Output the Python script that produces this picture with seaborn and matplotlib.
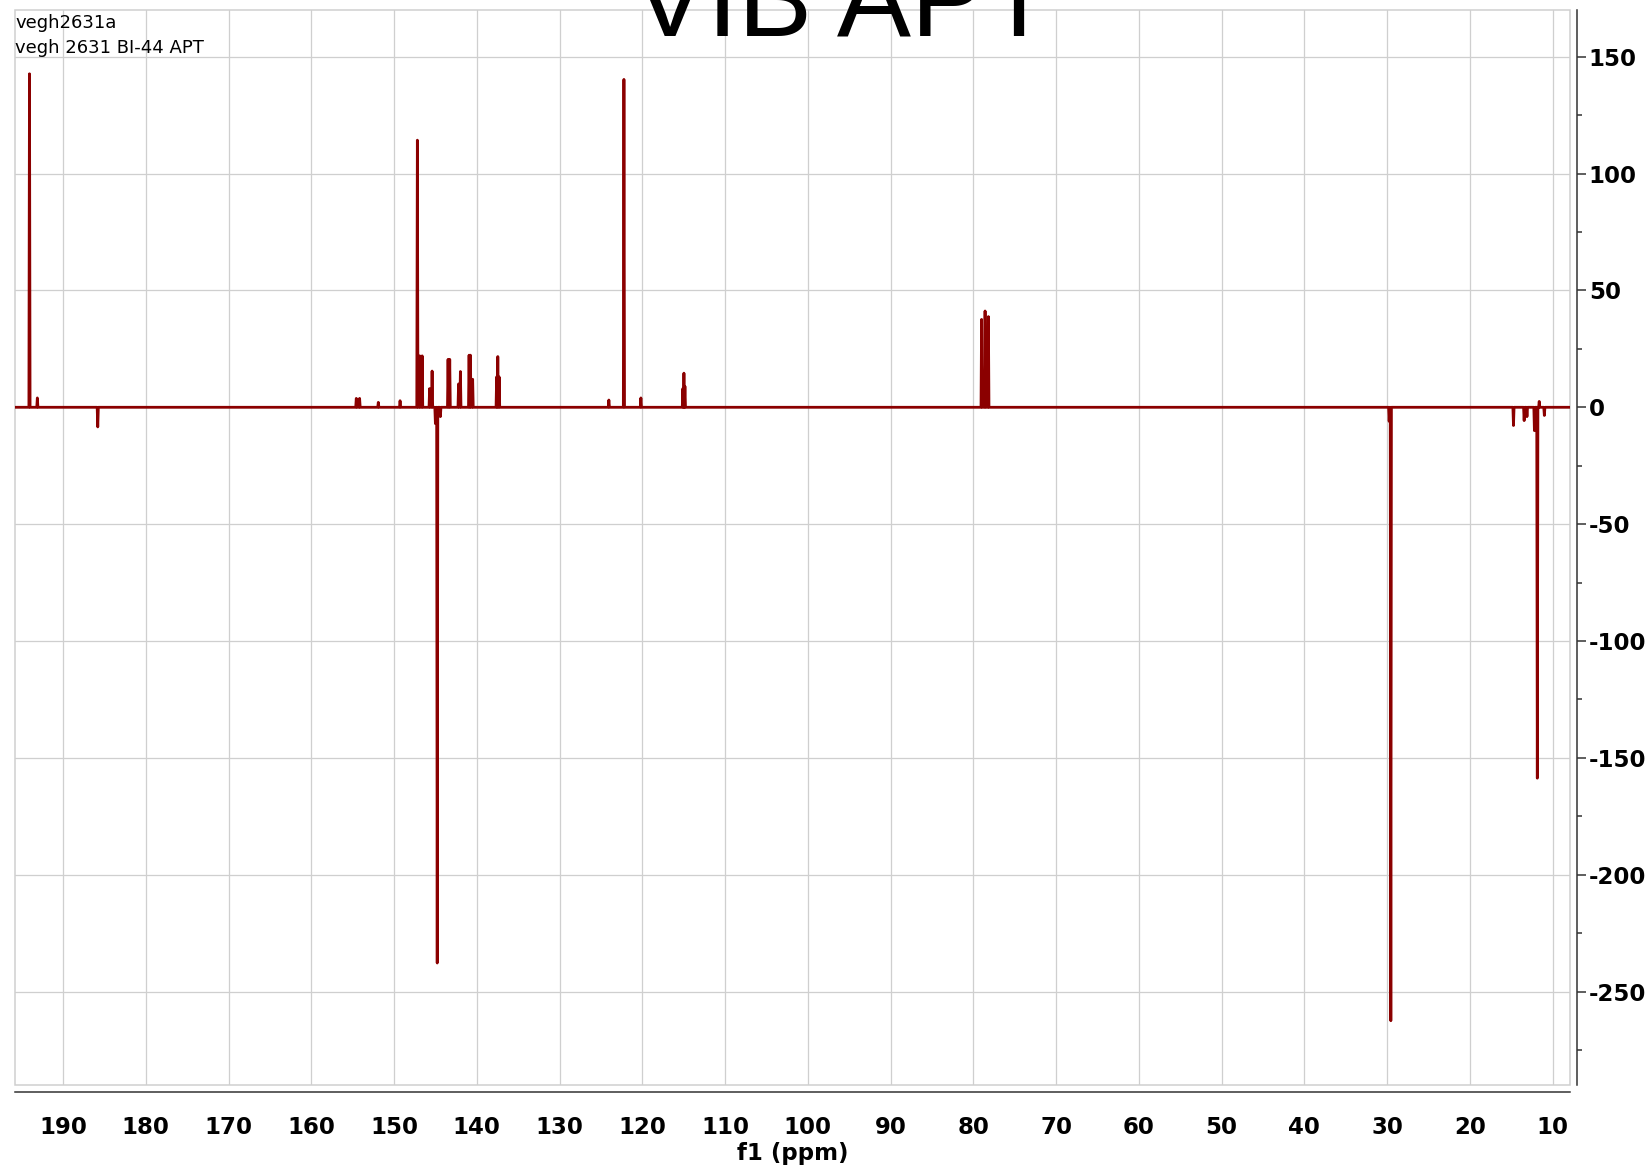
"""
Redraw of the 13C APT spectrum of vegh2631a (BI-44)
"""
import numpy as np
import pandas as pd
import matplotlib
matplotlib.use("Agg")
import matplotlib.pyplot as plt
import seaborn as sns
from matplotlib.patches import Rectangle
from matplotlib.ticker import MultipleLocator

# Data: peak position [ppm] and intensity
PEAK_PPM = [194.05, 193.1, 185.8, 154.56, 154.16, 151.9, 149.27,
            147.18, 146.9, 146.6, 145.7, 145.4, 145.0, 144.78, 144.4,
            143.47, 143.27, 142.2, 141.98, 140.93, 140.77, 140.5,
            137.6, 137.46, 137.3, 124.04, 122.22, 120.17,
            115.1, 114.97, 114.85, 79.0, 78.58, 78.18,
            29.75, 29.55, 14.73, 13.44, 13.1, 12.2, 11.85, 11.62, 11.0]
PEAK_INT = [142.7, 4.0, -8.4, 3.8, 3.8, 2.1, 2.8,
            114.3, 22.0, 22.0, 8.0, 15.5, -7.0, -237.8, -4.0,
            20.5, 20.5, 10.0, 15.3, 22.3, 22.3, 12.0,
            13.0, 21.7, 13.0, 3.1, 140.3, 4.0,
            8.0, 14.6, 9.0, 37.6, 41.2, 38.8,
            -6.0, -262.5, -7.8, -5.7, -4.0, -10.0, -158.7, 2.5, -3.5]

X_TICKS = list(range(10, 200, 10))
Y_TICKS = list(range(-250, 200, 50))
X_LIM = (195.8, 7.9)
Y_LIM = (-290, 170)

LINE_COLOR = "#8b0000"
GRID_COLOR = "#cfcfcf"
AXIS_COLOR = "#333333"
HALF_W = 0.07  # stick half width [ppm]


# I Helper Functions
def build_trace(ppm=None, intensity=None):
    """Stick trace: baseline - apex - baseline for every peak"""
    rows = [(X_LIM[0], 0.0)]
    for p, h in sorted(zip(ppm, intensity), key=lambda t: -t[0]):
        rows += [(p + HALF_W, 0.0), (p, h), (p - HALF_W, 0.0)]
    rows.append((X_LIM[1], 0.0))
    return pd.DataFrame(rows, columns=["ppm", "int"])


# II Main Functions
def plot_spectrum():
    sns.set_style("white")
    plt.rcParams["font.family"] = ["DejaVu Sans"]
    plt.rcParams["axes.unicode_minus"] = False
    plt.rcParams["text.color"] = "black"
    plt.rcParams["axes.labelcolor"] = "black"

    fig = plt.figure(figsize=(16.5, 11.66), dpi=100)
    ax = fig.add_axes([15 / 1650, 81 / 1166, 1555 / 1650, 1075 / 1166])

    df = build_trace(PEAK_PPM, PEAK_INT)
    sns.lineplot(data=df, x="ppm", y="int", sort=False, estimator=None,
                 color=LINE_COLOR, lw=2.0, ax=ax, zorder=3)

    ax.set_xlim(*X_LIM)
    ax.set_ylim(*Y_LIM)

    # grid + light frame
    ax.set_xticks(X_TICKS)
    ax.set_yticks(Y_TICKS)
    ax.xaxis.set_minor_locator(MultipleLocator(5))
    ax.yaxis.set_minor_locator(MultipleLocator(25))
    ax.grid(True, which="major", color=GRID_COLOR, lw=0.9)
    ax.add_patch(Rectangle((0, 0), 1, 1, transform=ax.transAxes, fill=False,
                           ec=GRID_COLOR, lw=1.1, clip_on=False, zorder=1))

    for s in ["top", "left"]:
        ax.spines[s].set_visible(False)
    for s in ["bottom", "right"]:
        ax.spines[s].set_position(("outward", 5))
        ax.spines[s].set_color(AXIS_COLOR)
        ax.spines[s].set_linewidth(1.1)

    ax.yaxis.tick_right()
    ax.tick_params(axis="x", which="major", direction="out", length=7.2, width=1.1,
                   color=AXIS_COLOR, labelcolor="black", pad=10, labelsize=16.5)
    ax.tick_params(axis="x", which="minor", direction="out", length=3.6, width=1.1,
                   color=AXIS_COLOR)
    ax.tick_params(axis="y", which="major", direction="out", length=6.5, width=1.1,
                   color=AXIS_COLOR, labelcolor="black", pad=2, labelsize=16.5)
    ax.tick_params(axis="y", which="minor", direction="out", length=3.6, width=1.1,
                   color=AXIS_COLOR)
    for lab in ax.get_xticklabels() + ax.get_yticklabels():
        lab.set_fontweight("bold")

    ax.set_xlabel("f1 (ppm)", fontsize=16.5, fontweight="bold", labelpad=2)
    ax.set_ylabel("")

    # header texts
    fig.text(15 / 1650, 1 - 28 / 1166, "vegh2631a", fontsize=13, va="baseline")
    fig.text(15 / 1650, 1 - 53 / 1166, "vegh 2631 BI-44 APT", fontsize=13, va="baseline")
    fig.text(843 / 1650, 1 - 36 / 1166, "VIB APT", fontsize=80, ha="center",
             va="baseline", family=["Liberation Sans", "DejaVu Sans"])

    fig.savefig("out.png", dpi=100)


# III Main
def main():
    plot_spectrum()


if __name__ == "__main__":
    main()
